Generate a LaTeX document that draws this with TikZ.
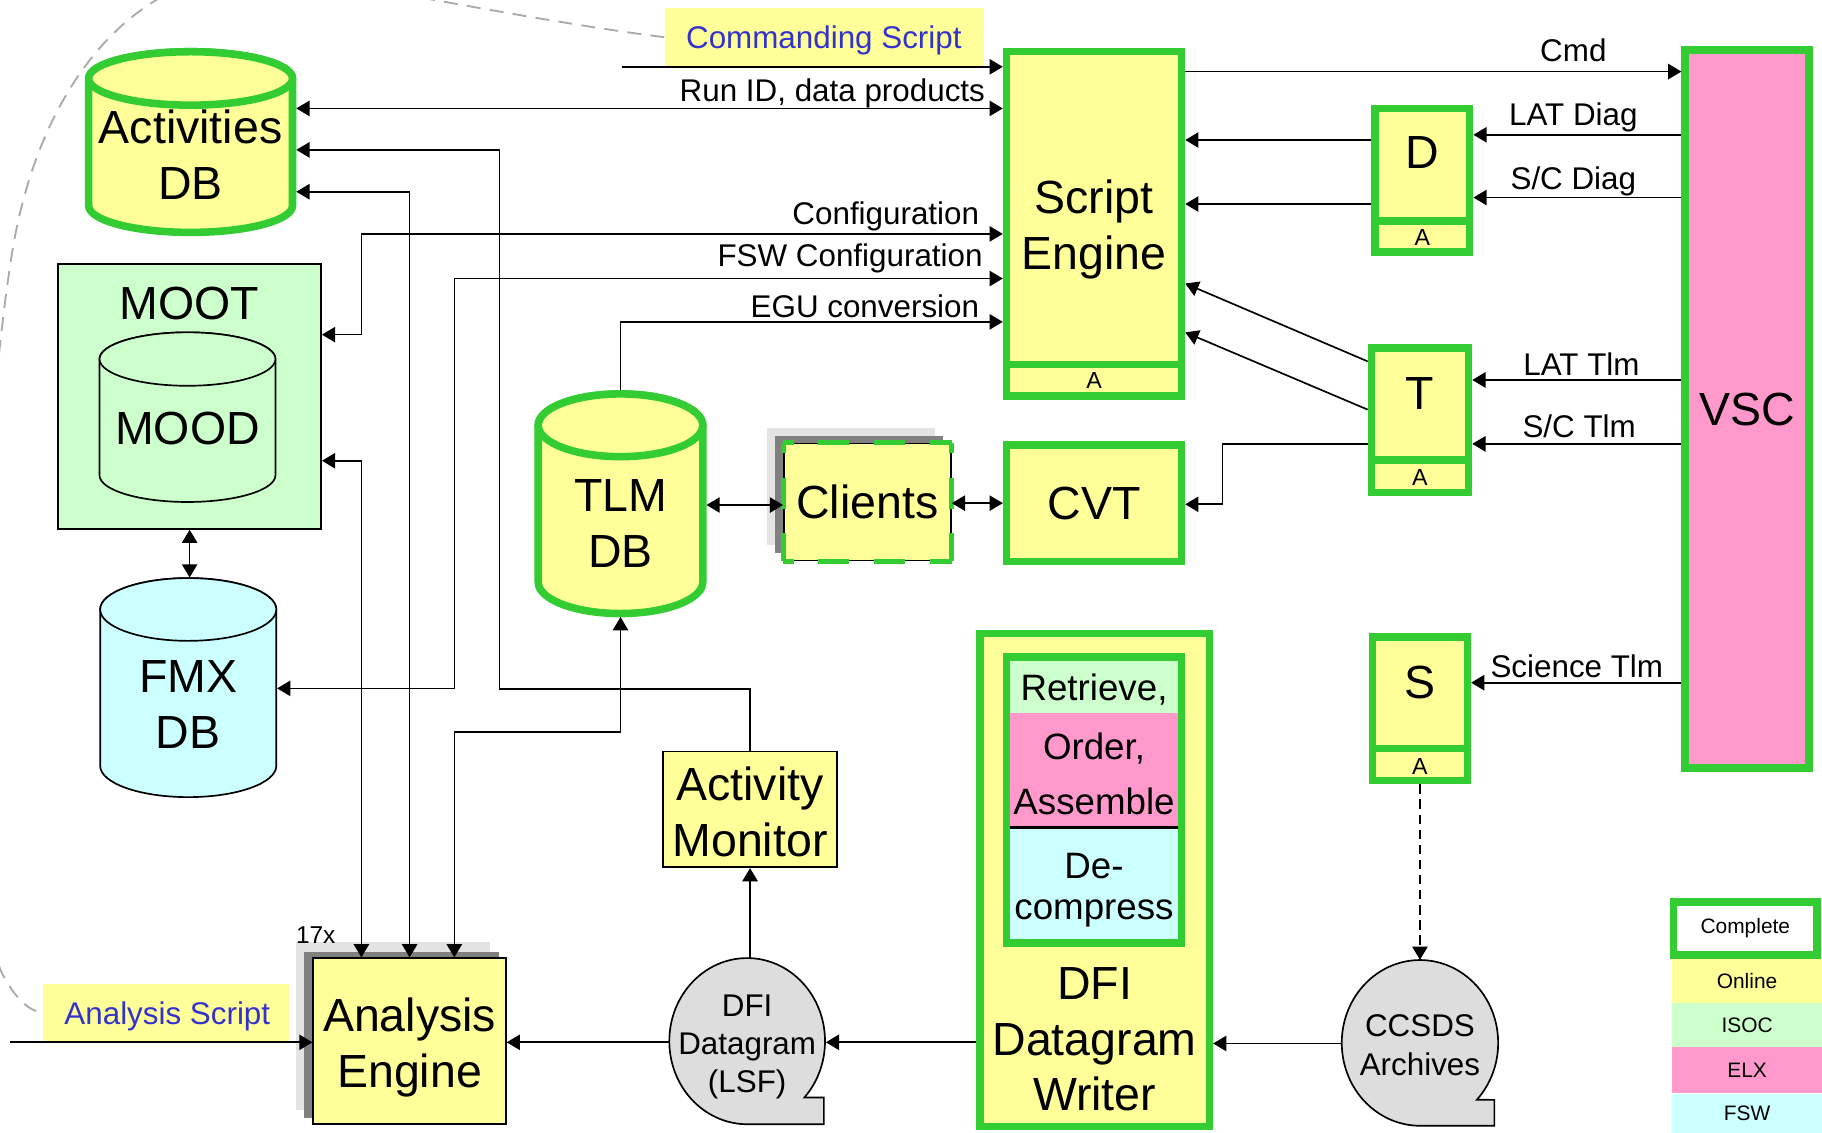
\documentclass[tikz,border=0pt]{standalone}
\usepackage{fontspec}
\setmainfont{Liberation Sans}
\usetikzlibrary{arrows.meta,calc}
\definecolor{yel}{HTML}{FFFF99}
\definecolor{grf}{HTML}{CCFFCC}
\definecolor{cyf}{HTML}{CCFFFF}
\definecolor{pkf}{HTML}{FF99CC}
\definecolor{gB}{HTML}{33CC33}
\definecolor{blt}{HTML}{3333CC}
\definecolor{blobc}{HTML}{DDDDDD}
\definecolor{shl}{HTML}{E3E3E3}
\definecolor{shd}{HTML}{808080}
\definecolor{dashg}{HTML}{AAAAAA}
% #1 style, #2 cx, #3 top centre y, #4 bottom centre y, #5 rx (pt), #6 ry (pt)
\newcommand\cylshape[6]{%
  \path[#1] ({#2-2*#5},#3) -- ({#2-2*#5},#4)
    arc[start angle=180,end angle=360,x radius=#5pt,y radius=#6pt]
    -- ({#2+2*#5},#3)
    arc[start angle=0,end angle=180,x radius=#5pt,y radius=#6pt] -- cycle;
  \path[#1] (#2,#3) ellipse[x radius=#5pt,y radius=#6pt];}
\begin{document}
\begin{tikzpicture}[x=0.5pt,y=-0.5pt,
  conn/.style={line width=0.72pt},
  arr/.style={conn,-{Triangle[length=5.7pt,width=6.6pt]}},
  darr/.style={conn,{Triangle[length=5.7pt,width=6.6pt]}-{Triangle[length=5.7pt,width=6.6pt]}},
  dasharr/.style={arr,dash pattern=on 4pt off 2.5pt},
  gbox/.style={draw=gB,line width=3.25pt,fill=yel,inner sep=0pt},
  tbox/.style={draw=black,line width=0.72pt,fill=yel,inner sep=0pt},
  ghost/.style={inner sep=0pt,outer sep=0pt},
  bigtxt/.style={font=\fontsize{20}{24}\selectfont,align=center,text=black},
  midtxt/.style={font=\fontsize{15.8}{19}\selectfont,inner sep=0pt},
  lbltxt/.style={font=\fontsize{13.5}{16.5}\selectfont,align=center},
  sidelbl/.style={lbltxt,inner sep=0pt,anchor=east},
  atxt/.style={font=\fontsize{10}{12}\selectfont,inner sep=0pt},
  legtxt/.style={font=\fontsize{9}{11}\selectfont},
  gline/.style={draw=gB,line width=3.25pt},
  cldash/.style={draw=gB,line width=2.2pt,dash pattern=on 13.5pt off 10.5pt,dash phase=9pt},
]
\fill[white] (0,0) rectangle (1568,975);
\useasboundingbox (0,0) rectangle (1568,975);

% script labels
\node[fill=yel,minimum width=137.5pt,minimum height=25pt,inner sep=0pt] (cs) at (709.5,32) {};
\node[lbltxt,text=blt] (cst) at (709,35) {Commanding Script};
\node[fill=yel,minimum width=106pt,minimum height=24.5pt,inner sep=0pt] (as) at (143,871.5) {};
\node[lbltxt,text=blt] (ast) at (144,875) {Analysis Script};
\draw[dashg,line width=0.8pt,dash pattern=on 6pt off 4pt] (cs.west) .. controls (460,18) and (330,-10) .. (240,-22) .. controls (130,-37) and (35,60) .. (10,220) .. controls (-20,412) and (-30,780) .. (3,840) .. controls (14,860) and (25,870) .. (as.west);

% Activities DB
\cylshape{draw=gB,line width=3.25pt,fill=yel}{164}{67.5}{177}{43.85}{11.5}
\node[ghost,minimum width=91pt,minimum height=80.9pt] (adb) at (164,122) {};
\node[bigtxt] (adbt) at (164,133) {Activities\\DB};

% MOOT / MOOD
\node[draw=black,line width=0.72pt,fill=grf,inner sep=0pt,minimum width=113.15pt,minimum height=114pt] (moot) at (163.2,341.15) {};
\node[bigtxt] (moott) at (163.2,261) {MOOT};
\cylshape{draw=black,line width=0.72pt,fill=grf}{161.35}{309}{409}{37.85}{11.5}
\node[bigtxt] (mood) at (161.35,369) {MOOD};

% FMX DB
\cylshape{draw=black,line width=0.72pt,fill=cyf}{162}{524.5}{659}{37.9}{13.5}
\node[ghost,minimum width=76.5pt,minimum height=94.5pt] (fmx) at (162,591.5) {};
\node[bigtxt] (fmxt) at (162,606.5) {FMX\\DB};

% TLM DB
\cylshape{draw=gB,line width=3.25pt,fill=yel}{534}{366}{501}{35.4}{13.5}
\node[ghost,minimum width=74pt,minimum height=97.5pt] (tlm) at (534,433.5) {};
\node[bigtxt] (tlmt) at (534,450.5) {TLM\\DB};

% Clients
\fill[shl] (660,368.5) rectangle (805,469);
\fill[shd] (667,375) rectangle (811.5,475.6);
\node[tbox,minimum width=71.85pt,minimum height=50.35pt,bigtxt] (cl) at (746.5,432) {Clients};
\draw[cldash] (cl.north west) -- (cl.north east);
\draw[cldash] (cl.south west) -- (cl.south east);
\draw[cldash] (cl.north west) -- (cl.south west);
\draw[cldash] (cl.north east) -- (cl.south east);

% Script Engine
\node[gbox,minimum width=75.25pt,minimum height=148.25pt] (se) at (941.5,192.5) {};
\node[bigtxt] (set) at (941.5,197.5) {Script\\Engine};
\draw[gline] (se.west |- 0,313.5) -- (se.east |- 0,313.5);
\node[atxt] (sea) at (941.5,327.5) {A};

% CVT
\node[gbox,minimum width=75.25pt,minimum height=50.25pt,bigtxt] (cvt) at (941.5,433) {CVT};

% D
\node[gbox,minimum width=40.75pt,minimum height=61.75pt] (d) at (1224,155) {};
\draw[gline] (d.west |- 0,190) -- (d.east |- 0,190);
\node[bigtxt] (dt) at (1224,131) {D};
\node[atxt] (da) at (1224,204) {A};

% T
\node[gbox,minimum width=41.75pt,minimum height=62.25pt] (t) at (1222,361.5) {};
\draw[gline] (t.west |- 0,396) -- (t.east |- 0,396);
\node[bigtxt] (tt) at (1222,339) {T};
\node[atxt] (ta) at (1222,411) {A};

% S
\node[gbox,minimum width=40.75pt,minimum height=61.75pt] (s) at (1222,610) {};
\draw[gline] (s.west |- 0,644) -- (s.east |- 0,644);
\node[bigtxt] (st) at (1222,587) {S};
\node[atxt] (sa) at (1222,660) {A};

% VSC
\node[gbox,fill=pkf,minimum width=53.25pt,minimum height=308.75pt,bigtxt] (vsc) at (1503.5,352) {VSC};

% DFI Datagram Writer
\node[gbox,minimum width=98.75pt,minimum height=212pt] (dfiw) at (942,757.25) {};
\fill[grf] (869,568) rectangle (1014,613.6);
\fill[pkf] (869,613.6) rectangle (1014,711);
\fill[cyf] (869,711) rectangle (1014,809);
\draw[line width=1pt] (869,712) -- (1014,712);
\node[draw=gB,line width=3.25pt,inner sep=0pt,minimum width=75.25pt,minimum height=123.25pt] (dfin) at (941.5,688.5) {};
\node[midtxt] (r1) at (941.5,593) {Retrieve,};
\node[midtxt] (r2) at (941.5,644) {Order,};
\node[midtxt] (r3) at (941.5,689.5) {Assemble};
\node[midtxt] (r4) at (941.5,745) {De-};
\node[midtxt] (r5) at (941.5,786) {compress};
\node[bigtxt] (dfiwt) at (942,894.5) {DFI\\Datagram\\Writer};

% Activity Monitor
\node[tbox,minimum width=74.85pt,minimum height=49.85pt] (am) at (645.5,696.5) {};
\node[bigtxt] (amt) at (645.5,699) {Activity\\Monitor};

% Analysis Engine
\fill[shl] (255,811) rectangle (422,955);
\fill[shd] (262,819) rectangle (429,962);
\node[tbox,minimum width=82.85pt,minimum height=71.35pt] (ae) at (352.5,896) {};
\node[bigtxt] (aet) at (352.5,901.5) {Analysis\\Engine};
\node[font=\fontsize{10.5}{12}\selectfont] (x17) at (271.7,804.5) {17x};

% DFI Datagram (LSF)
\node[ghost,minimum width=67.7pt,minimum height=71.5pt] (dfi) at (643,896) {};
\draw[conn,fill=blobc] ($(dfi.center)+(-42.7:33.5pt and 35.75pt)$) arc[start angle=-42.7,end angle=270,x radius=33.5pt,y radius=35.75pt] -- (709,967.5) -- (709,944.5) -- cycle;
\node[lbltxt] (dfit) at (643,901) {DFI\\Datagram\\(LSF)};

% CCSDS Archives
\node[ghost,minimum width=68pt,minimum height=71.5pt] (cc) at (1222,897.5) {};
\draw[conn,fill=blobc] ($(cc.center)+(-43.4:33.65pt and 35.65pt)$) arc[start angle=-43.4,end angle=270,x radius=33.65pt,y radius=35.65pt] -- (1286,968.8) -- (1286,946.5) -- cycle;
\node[lbltxt] (cct) at (1222,899.5) {CCSDS\\Archives};

% Legend
\node[fill=yel,inner sep=0pt,minimum width=64.5pt,minimum height=19pt,legtxt] (lon) at (1503.5,844) {Online};
\node[fill=grf,inner sep=0pt,minimum width=64.5pt,minimum height=19pt,legtxt] (lisoc) at (1503.5,882) {ISOC};
\node[fill=pkf,inner sep=0pt,minimum width=64.5pt,minimum height=20pt,legtxt] (lelx) at (1503.5,921) {ELX};
\node[fill=cyf,inner sep=0pt,minimum width=64.5pt,minimum height=17pt,legtxt] (lfsw) at (1503.5,958.5) {FSW};
\node[draw=gB,line width=3.25pt,fill=white,inner sep=0pt,minimum width=61.75pt,minimum height=22.75pt,legtxt] (lcomp) at (1502,799) {Complete};

% ---- connectors ----
\coordinate (cmdin) at (535,57.5);
\coordinate (asin) at (8.4,897);
\draw[arr] (cmdin) -- (se.west |- 0,57.5);
\draw[darr] (adb.east |- 0,93.3) -- (se.west |- 0,93.3);
\draw[arr] (am.north) -- (am.north |- 0,593) -- (430,593) -- (430,129) -- (adb.east |- 0,129);
\draw[darr] (adb.east |- 0,165) -- (352.5,165) -- (ae.north);
\draw[darr] (moot.east |- 0,288) -- (311,288) -- (311,201.3) -- (se.west |- 0,201.3);
\draw[darr] (moot.east |- 0,396.5) -- (311,396.5) -- (311,0 |- ae.north);
\draw[darr] (fmx.east |- 0,592.4) -- (391,592.4) -- (391,239.7) -- (se.west |- 0,239.7);
\draw[darr] (391,0 |- ae.north) -- (391,630) -- (534,630) -- (tlm.south);
\draw[arr] (tlm.north) -- (534,277) -- (se.west |- 0,277);
\draw[darr] (moot.south) -- (moot.south |- fmx.north);
\draw[darr] (tlm.east |- 0,434.6) -- (cl.west |- 0,434.6);
\draw[darr] (cl.east |- 0,433) -- (cvt.west |- 0,433);
\draw[arr] (t.west |- 0,382) -- (1052,382) -- (1052,434) -- (cvt.east |- 0,434);
\draw[arr] (t.west |- 0,311) -- (se.east |- 0,244);
\draw[arr] (t.west |- 0,352.5) -- (se.east |- 0,286);
\draw[arr] (d.west |- 0,120.5) -- (se.east |- 0,120.5);
\draw[arr] (d.west |- 0,175.6) -- (se.east |- 0,175.6);
\draw[arr] (se.east |- 0,61.6) -- (vsc.west |- 0,61.6);
\draw[arr] (vsc.west |- 0,116) -- (d.east |- 0,116);
\draw[arr] (vsc.west |- 0,170) -- (d.east |- 0,170);
\draw[arr] (vsc.west |- 0,327) -- (t.east |- 0,327);
\draw[arr] (vsc.west |- 0,382) -- (t.east |- 0,382);
\draw[arr] (vsc.west |- 0,587.5) -- (s.east |- 0,587.5);
\draw[dasharr] (s.south) -- (cc.north);
\draw[arr] (cc.west |- 0,898) -- (dfiw.east |- 0,898);
\draw[arr] (dfiw.west |- 0,897) -- (dfi.east |- 0,897);
\draw[arr] (dfi.west |- 0,897) -- (ae.east |- 0,897);
\draw[arr] (am.south |- dfi.north) -- (am.south);
\draw[arr] (asin) -- (ae.west |- 0,897);

% ---- connector labels ----
\node[sidelbl] (l1) at (848,80) {Run ID, data products};
\node[sidelbl] (l2) at (843,186.5) {Configuration};
\node[sidelbl] (l3) at (846,222.5) {FSW Configuration};
\node[sidelbl] (l4) at (843,263.5) {EGU conversion};
\node[lbltxt] (l5) at (1354,43) {Cmd};
\node[lbltxt] (l6) at (1354,101) {LAT Diag};
\node[lbltxt] (l7) at (1354,156) {S/C Diag};
\node[lbltxt] (l8) at (1361,313) {LAT Tlm};
\node[lbltxt] (l9) at (1359,367) {S/C Tlm};
\node[lbltxt] (l10) at (1357,573.5) {Science Tlm};
\end{tikzpicture}
\end{document}
